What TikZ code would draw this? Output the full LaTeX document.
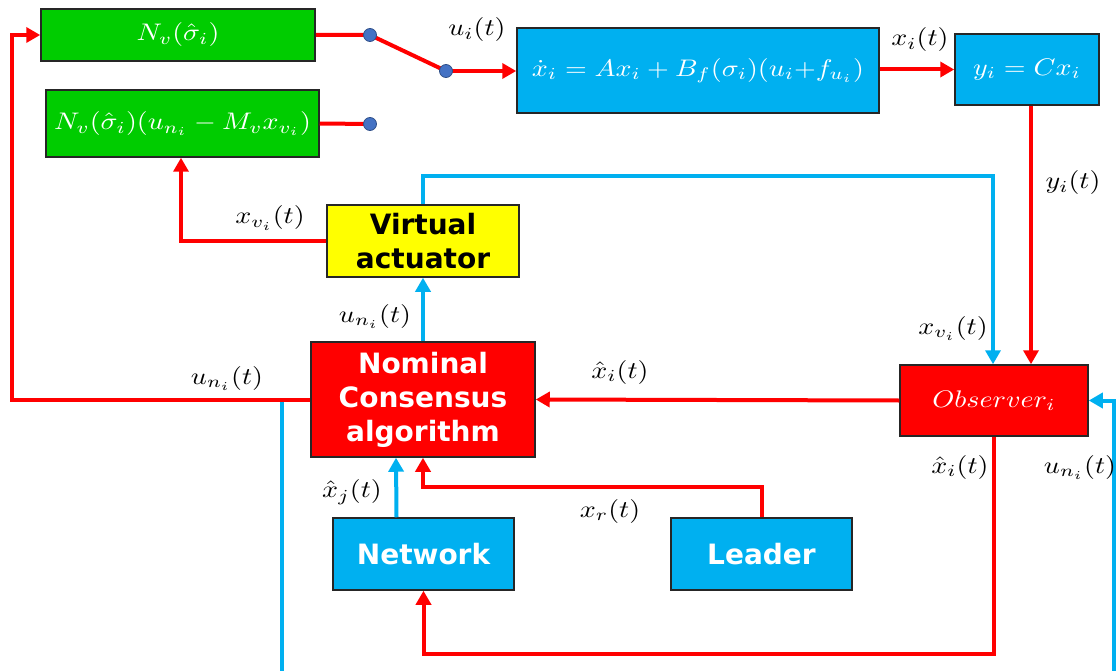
\documentclass[tikz,border=0pt]{standalone}
\usepackage{fontspec}
\usepackage{graphicx}
\newfontfamily\boxfont{DejaVu Sans}
\usetikzlibrary{arrows.meta}
\newcommand{\mth}[1]{\scalebox{2.8}[2.4]{$#1$}}
\definecolor{cgreen}{RGB}{0,204,0}
\definecolor{cblue}{RGB}{0,176,240}
\definecolor{cred}{RGB}{255,0,0}
\definecolor{cyel}{RGB}{255,255,0}
\definecolor{cdot}{RGB}{68,114,196}
\tikzset{
  blk/.style={draw=black!85, line width=1.5pt, inner sep=0pt, align=center},
  gbox/.style={blk, fill=cgreen, text=white},
  bbox/.style={blk, fill=cblue, text=white},
  wordbox/.style={blk, font=\fontsize{28}{34}\selectfont\boxfont\bfseries},
  redln/.style={draw=cred, line width=4pt},
  bluln/.style={draw=cblue, line width=4pt},
  arr/.style={-{Triangle[length=14pt,width=15pt]}},
  lbl/.style={inner sep=0pt, text=black},
  swdot/.style={circle, fill=cdot, draw=cdot!70!black, line width=0.8pt, minimum size=13pt, inner sep=0pt}
}
\begin{document}
\begin{tikzpicture}[x=1pt,y=-1pt]
\useasboundingbox (0,0) rectangle (1116,671);
% boxes
\node[gbox, minimum width=274pt, minimum height=52pt] (nv) at (178,35) {\mth{N_v(\hat\sigma_i)}};
\node[gbox, minimum width=273pt, minimum height=67pt] (nvu) at (182.5,123.5) {\mth{N_v(\hat\sigma_i)(u_{n_i}-M_v x_{v_i})}};
\node[bbox, minimum width=362pt, minimum height=85pt] (sys) at (698,70.5) {\mth{\dot x_i=Ax_i+B_f(\sigma_i)(u_i{+}f_{u_i})}};
\node[bbox, minimum width=144pt, minimum height=71pt] (out) at (1027,69.5) {\mth{y_i=Cx_i}};
\node[bbox, fill=cred, minimum width=188pt, minimum height=71pt] (obs) at (994,400.5) {\mth{Observer_i}};
\node[wordbox, fill=cyel, text=black, minimum width=192pt, minimum height=72pt] (va) at (423,241) {Virtual\\actuator};
\node[wordbox, fill=cred, text=white, minimum width=224pt, minimum height=115pt] (nca) at (423,399.5) {Nominal\\Consensus\\algorithm};
\node[wordbox, fill=cblue, text=white, minimum width=181pt, minimum height=72pt] (net) at (423.5,554) {Network};
\node[wordbox, fill=cblue, text=white, minimum width=181pt, minimum height=72pt] (lead) at (761.5,554) {Leader};
% switch points
\coordinate (sw1) at (370,35);
\coordinate (sw2) at (446,71);
\coordinate (sw3) at (370,124);
\coordinate (topc) at (993,176);
\coordinate (lft) at (12,35);
\coordinate (cb1) at (282,402);
\coordinate (cb2) at (282,671);
\coordinate (cr1) at (1114,671);
% red connectors
\draw[redln] (nv.east) -- (sw1) -- (sw2);
\draw[redln, arr] (sw2) -- (sw2 -| sys.west);
\draw[redln] (nvu.east) -- (sw3);
\draw[redln, arr] (sys.east |- out.west) -- (out.west);
\draw[redln, arr] ([xshift=4pt]out.south) -- ([xshift=4pt]out.south |- obs.north);
\draw[redln, arr] (va.west) -| ([xshift=-1.5pt]nvu.south);
\draw[redln, arr] (nca.west) -| (lft) -- (nv.west);
\draw[redln, arr] (obs.west) -- (nca.east);
\draw[redln, arr] (obs.south) -- ++(0,217.5) -| (net.south);
\draw[redln, arr] (lead.north) -- ++(0,-30) -| (nca.south);
% blue connectors
\draw[bluln, arr] (va.north) |- (topc) -- (topc |- obs.north);
\draw[bluln, arr] (nca.north) -- (va.south);
\draw[bluln, arr] ([xshift=-27pt]net.north) -- ([xshift=-27pt]nca.south);
\draw[bluln] (cb1) -- (cb2);
\draw[bluln, arr] (cr1) |- (obs.east);
% dots
\node[swdot] (d1) at (sw1) {};
\node[swdot] (d2) at (sw2) {};
\node[swdot] (d3) at (sw3) {};
% labels
\node[lbl] (l1) at (477,30) {\mth{u_i(t)}};
\node[lbl] (l2) at (920,40) {\mth{x_i(t)}};
\node[lbl] (l3) at (1073,183) {\mth{y_i(t)}};
\node[lbl] (l4) at (270,218) {\mth{x_{v_i}(t)}};
\node[lbl] (l5) at (375,316) {\mth{u_{n_i}(t)}};
\node[lbl] (l6) at (227,378) {\mth{u_{n_i}(t)}};
\node[lbl] (l7) at (620,372) {\mth{\hat x_i(t)}};
\node[lbl] (l8) at (953,328) {\mth{x_{v_i}(t)}};
\node[lbl] (l9) at (960,467) {\mth{\hat x_i(t)}};
\node[lbl] (l10) at (1080,467) {\mth{u_{n_i}(t)}};
\node[lbl] (l11) at (352,492) {\mth{\hat x_j(t)}};
\node[lbl] (l12) at (610,511) {\mth{x_r(t)}};
\end{tikzpicture}
\end{document}
